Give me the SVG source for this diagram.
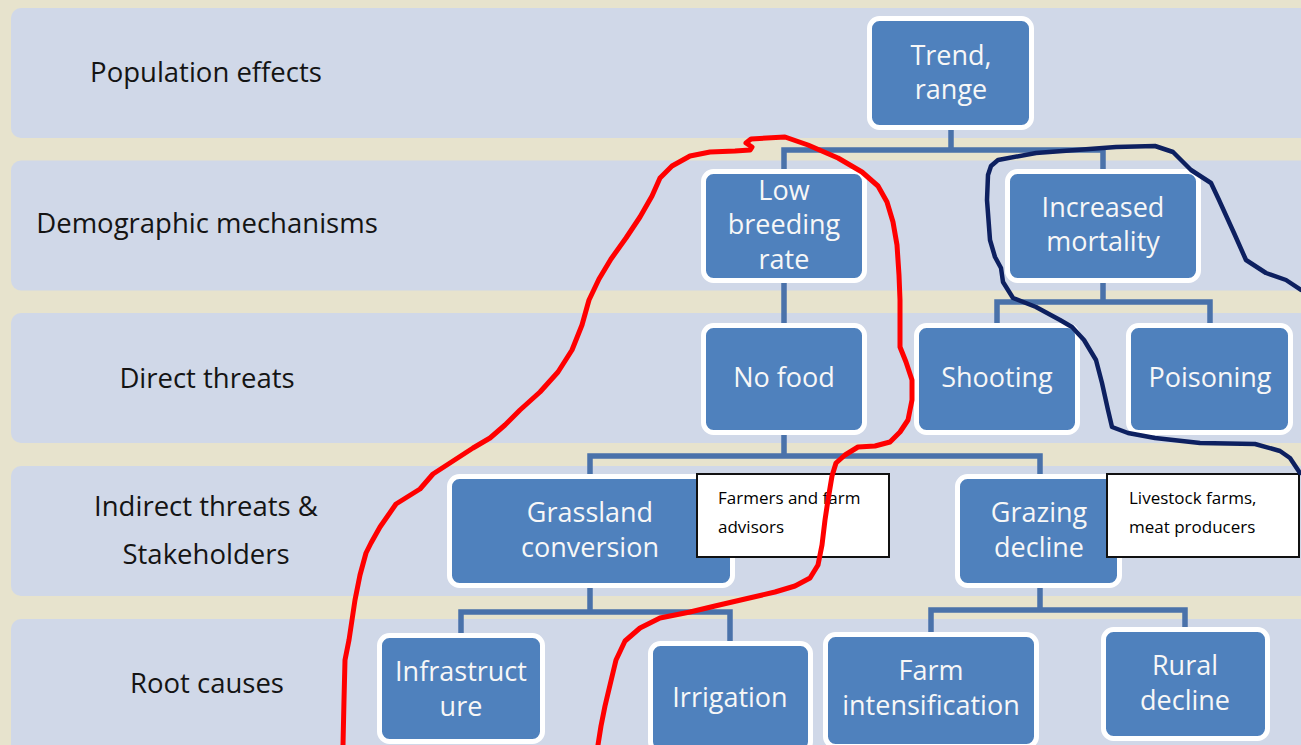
<svg xmlns="http://www.w3.org/2000/svg" width="1301" height="745" viewBox="0 0 1301 745">
<style>
.band{fill:#d0d8e8}
.lbl{font-family:"Open Sans","Noto Sans",sans-serif;font-size:27.5px;fill:#141414;text-anchor:middle}
.node rect{fill:#4f81bd;stroke:#ffffff;stroke-width:5}
.node text{font-family:"Open Sans","Noto Sans",sans-serif;font-size:27px;fill:#f7f7f7;text-anchor:middle}
.conn path{fill:none;stroke:#4a72aa;stroke-width:5.5;stroke-linejoin:miter}
.call rect{fill:#ffffff;stroke:#111111;stroke-width:2}
.call text{font-family:"Open Sans","Noto Sans",sans-serif;font-size:17px;fill:#000000}
.ink{fill:none;stroke-linecap:round;stroke-linejoin:round}
</style>
<rect x="0" y="0" width="1301" height="745" fill="#e7e3cd"/>
<g id="bands">
<rect class="band" x="11" y="8" width="1310" height="130" rx="10"/>
<rect class="band" x="11" y="160.5" width="1310" height="130" rx="10"/>
<rect class="band" x="11" y="313" width="1310" height="130" rx="10"/>
<rect class="band" x="11" y="466" width="1310" height="130" rx="10"/>
<rect class="band" x="11" y="619" width="1310" height="140" rx="10"/>
</g>
<g id="labels">
<text class="lbl" x="206" y="82">Population effects</text>
<text class="lbl" x="207" y="233">Demographic mechanisms</text>
<text class="lbl" x="207" y="388">Direct threats</text>
<text class="lbl" x="206" y="516">Indirect threats &amp;</text>
<text class="lbl" x="206" y="564">Stakeholders</text>
<text class="lbl" x="207" y="693">Root causes</text>
</g>
<g id="connectors" class="conn">
<path d="M951,130 V150 M784,171 V150 H1103 V171"/>
<path d="M784,283 V325"/>
<path d="M1103,283 V302 M997,325 V302 H1210 V325"/>
<path d="M784,435 V456 M590,476 V456 H1040 V476"/>
<path d="M590,588 V612 M461,635 V612 H730 V643"/>
<path d="M1040,588 V610 M931,634 V610 H1185 V629"/>
</g>
<g id="n-trend" class="node"><rect x="869.5" y="18.5" width="162" height="109" rx="10"/><text x="951" y="65">Trend,</text><text x="951" y="99">range</text></g>
<g id="n-lowbreeding" class="node"><rect x="703.5" y="171.5" width="161" height="109" rx="10"/><text x="784" y="200">Low</text><text x="784" y="234">breeding</text><text x="784" y="269">rate</text></g>
<g id="n-mortality" class="node"><rect x="1007.5" y="171.5" width="191" height="109" rx="10"/><text x="1103" y="217">Increased</text><text x="1103" y="251">mortality</text></g>
<g id="n-nofood" class="node"><rect x="703.5" y="325.5" width="161" height="107" rx="10"/><text x="784" y="387">No food</text></g>
<g id="n-shooting" class="node"><rect x="916.5" y="325.5" width="161" height="107" rx="10"/><text x="997" y="387">Shooting</text></g>
<g id="n-poisoning" class="node"><rect x="1128.5" y="325.5" width="162" height="107" rx="10"/><text x="1210" y="387">Poisoning</text></g>
<g id="n-grassland" class="node"><rect x="449.5" y="476.5" width="283" height="109" rx="10"/><text x="590" y="522">Grassland</text><text x="590" y="557">conversion</text></g>
<g id="n-grazing" class="node"><rect x="957.5" y="476.5" width="162" height="109" rx="10"/><text x="1039" y="522">Grazing</text><text x="1039" y="557">decline</text></g>
<g id="n-infrastructure" class="node"><rect x="379.5" y="635.5" width="163" height="106" rx="10"/><text x="461" y="681">Infrastruct</text><text x="461" y="716">ure</text></g>
<g id="n-irrigation" class="node"><rect x="650.5" y="643.5" width="160" height="108" rx="10"/><text x="730" y="707">Irrigation</text></g>
<g id="n-farmint" class="node"><rect x="825.5" y="634.5" width="211" height="112" rx="10"/><text x="931" y="680">Farm</text><text x="931" y="715">intensification</text></g>
<g id="n-rural" class="node"><rect x="1103.5" y="629.5" width="164" height="109" rx="10"/><text x="1185" y="675">Rural</text><text x="1185" y="710">decline</text></g>
<g id="c-farmers" class="call"><rect x="697" y="474" width="192" height="83"/><text x="718" y="504">Farmers and farm</text><text x="718" y="533">advisors</text></g>
<g id="c-livestock" class="call"><rect x="1107" y="474" width="192" height="83"/><text x="1129" y="504">Livestock farms,</text><text x="1129" y="533">meat producers</text></g>
<g id="ink">
<path class="ink" stroke="#ff0000" stroke-width="5" d="M343,745 L344,700 L345,660 L349,640 L352,620 L355,600 L360,575 L366,553 L371,543 L380,527 L396,504 L420,489 L433,474 L453,461 L473,448 L490,438 L505,425 L520,410 L540,392 L558,372 L572,350 L582,325 L589,300 L599,279 L611,259 L626,238 L640,217 L652,196 L660,178 L672,166 L690,156 L710,152 L735,151 L750,150 L752,147 L746,143 L751,139 L785,137 L808,145 L838,158 L862,172 L878,186 L887,202 L893,222 L897,245 L899,275 L900,300 L900,347 L906,362 L912,380 L912,400 L908,420 L900,432 L890,442 L875,446 L858,447 L845,455 L836,463 L832,476 L828,500 L825,520 L822,545 L818,565 L810,578 L795,586 L775,592 L745,599 L715,606 L690,612 L660,618 L640,628 L625,641 L616,660 L610,685 L605,706 L601,726 L598,745"/>
<path class="ink" stroke="#0d2060" stroke-width="4.5" d="M1300,473 L1290,458 L1280,451 L1255,444 L1200,443 L1155,438 L1128,433 L1112,427 L1108,410 L1102,383 L1096,360 L1084,340 L1072,327 L1060,320 L1036,307 L1013,298 L1003,282 L1001,268 L995,257 L990,240 L987,200 L988,175 L991,166 L998,160 L1036,153 L1116,147 L1155,146 L1173,152 L1191,170 L1211,183 L1219,200 L1234,233 L1246,260 L1266,273 L1286,280 L1301,290"/>
</g>
</svg>
